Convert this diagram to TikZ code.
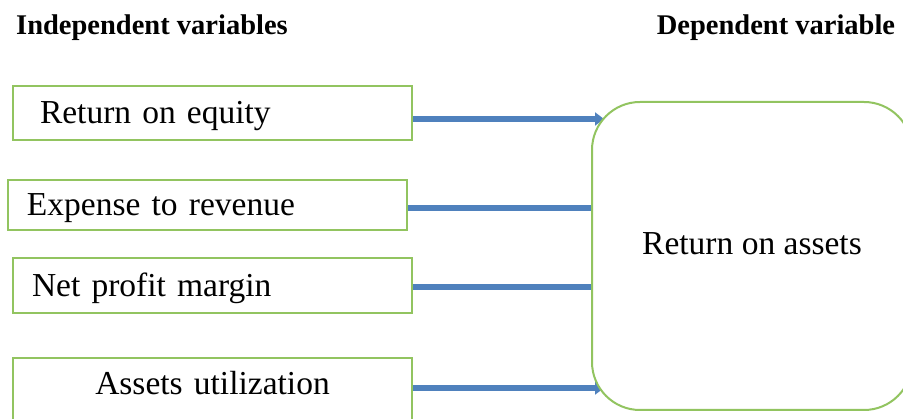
\documentclass[tikz,border=0pt]{standalone}
\usepackage{fontspec}
\setmainfont{Liberation Serif}
\usepackage{tikz}
\usetikzlibrary{arrows.meta}
\usetikzlibrary{backgrounds}
\definecolor{boxgreen}{RGB}{146,196,96}
\definecolor{linkblue}{RGB}{79,129,189}
\newcommand{\boxfont}{\fontsize{33.5}{40}\selectfont}
\newcommand{\headfont}{\fontsize{28.5}{34}\selectfont\bfseries}

\begin{document}
\begin{tikzpicture}[x=1pt,y=-1pt,
    varbox/.style={draw=boxgreen,line width=2pt,fill=white,minimum width=399pt,font=\boxfont,align=left,text height=22pt,text depth=0pt,inner xsep=19pt,text width=361pt},
    link/.style={draw=linkblue,line width=5.5pt,-{Triangle[length=9pt,width=13pt]}},
    heading/.style={font=\headfont,anchor=base}]
  \useasboundingbox (0,0) rectangle (903,419);
  \clip (0,0) rectangle (903,419);
  \node[heading] (indep) at (152,35) {Independent variables};
  \node[heading] (dep) at (776,35) {Dependent variable};
  \node[varbox,minimum height=54pt,inner xsep=27pt,text width=345pt] (roe) at (212.5,113) {Return on equity};
  \node[varbox,minimum height=50pt] (etr) at (207.5,205) {Expense to revenue};
  \node[varbox,minimum height=55pt] (npm) at (212.5,285.5) {Net profit margin};
  \node[varbox,minimum height=66pt,align=center,text depth=14pt] (au) at (212.5,391) {Assets utilization};
  \node[draw=boxgreen,line width=2pt,fill=white,rounded corners=48pt,minimum width=320pt,minimum height=308pt,font=\boxfont,text height=22pt,text depth=24pt] (roa) at (752,256) {Return on assets};
  \coordinate (tip) at ([xshift=13pt]roa.west);
  \begin{scope}[on background layer]
    \draw[link] ([yshift=-6pt]roe.east) coordinate (s1) -- (s1 -| tip);
    \draw[link] ([yshift=-3pt]etr.east) coordinate (s2) -- (s2 -| tip);
    \draw[link] ([yshift=-1.5pt]npm.east) coordinate (s3) -- (s3 -| tip);
    \draw[link] ([yshift=3pt]au.east) coordinate (s4) -- (s4 -| tip);
  \end{scope}
\end{tikzpicture}
\end{document}
